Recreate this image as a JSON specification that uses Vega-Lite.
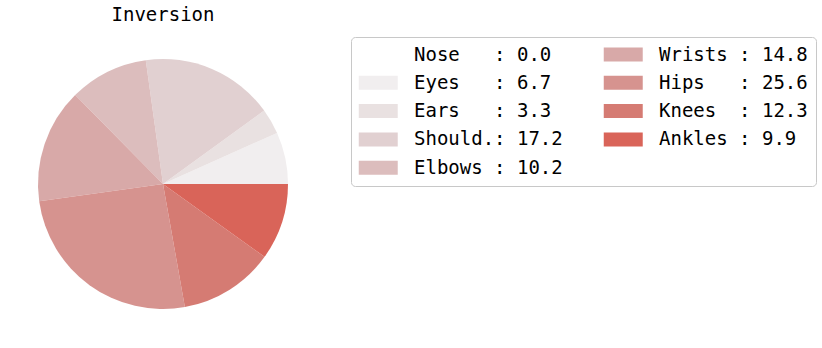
{
  "$schema": "https://vega.github.io/schema/vega-lite/v6.json",
  "width": 250,
  "height": 250,
  "autosize": {"type": "none"},
  "padding": {"left": 38, "top": 59, "right": 534, "bottom": 39},
  "title": {"text": "Inversion", "font": "DejaVu Sans Mono", "fontSize": 19, "fontWeight": "normal", "color": "#000000", "offset": 12, "anchor": "middle"},
  "config": {"view": {"stroke": null}},
  "data": {"values": [
    {"part": "Nose", "label": "Nose\u00a0\u00a0\u00a0: 0.0", "value": 0.0, "idx": 0},
    {"part": "Eyes", "label": "Eyes\u00a0\u00a0\u00a0: 6.7", "value": 6.7, "idx": 1},
    {"part": "Ears", "label": "Ears\u00a0\u00a0\u00a0: 3.3", "value": 3.3, "idx": 2},
    {"part": "Should.", "label": "Should.: 17.2", "value": 17.2, "idx": 3},
    {"part": "Elbows", "label": "Elbows\u00a0: 10.2", "value": 10.2, "idx": 4},
    {"part": "Wrists", "label": "Wrists\u00a0: 14.8", "value": 14.8, "idx": 5},
    {"part": "Hips", "label": "Hips\u00a0\u00a0\u00a0: 25.6", "value": 25.6, "idx": 6},
    {"part": "Knees", "label": "Knees\u00a0\u00a0: 12.3", "value": 12.3, "idx": 7},
    {"part": "Ankles", "label": "Ankles\u00a0: 9.9", "value": 9.9, "idx": 8}
  ]},
  "mark": {"type": "arc", "strokeWidth": 0},
  "encoding": {
    "theta": {"field": "value", "type": "quantitative", "stack": true, "scale": {"range": [1.5707963, -4.712389]}},
    "order": {"field": "idx", "type": "quantitative"},
    "color": {
      "field": "label",
      "type": "nominal",
      "scale": {
        "domain": ["Nose\u00a0\u00a0\u00a0: 0.0", "Eyes\u00a0\u00a0\u00a0: 6.7", "Ears\u00a0\u00a0\u00a0: 3.3", "Should.: 17.2", "Elbows\u00a0: 10.2", "Wrists\u00a0: 14.8", "Hips\u00a0\u00a0\u00a0: 25.6", "Knees\u00a0\u00a0: 12.3", "Ankles\u00a0: 9.9"],
        "range": ["#ffffff", "#f1eeef", "#e9e1e1", "#e1d0d1", "#dcbdbd", "#d8a9a8", "#d6938f", "#d57b73", "#d96459"]
      },
      "legend": {
        "title": null,
        "orient": "none",
        "legendX": 313,
        "legendY": -22,
        "direction": "vertical",
        "columns": 2,
        "columnPadding": 40,
        "rowPadding": 8.3,
        "padding": 7.5,
        "strokeColor": "#c8c8c8",
        "fillColor": "#ffffff",
        "cornerRadius": 4,
        "symbolType": "M-1,-0.72H3V0.72H-1Z",
        "symbolSize": 380,
        "symbolStrokeWidth": 0,
        "symbolOpacity": 1,
        "labelFont": "DejaVu Sans Mono",
        "labelFontSize": 19,
        "labelColor": "#000000",
        "labelOffset": 35.5,
        "labelLimit": 400
      }
    }
  }
}
